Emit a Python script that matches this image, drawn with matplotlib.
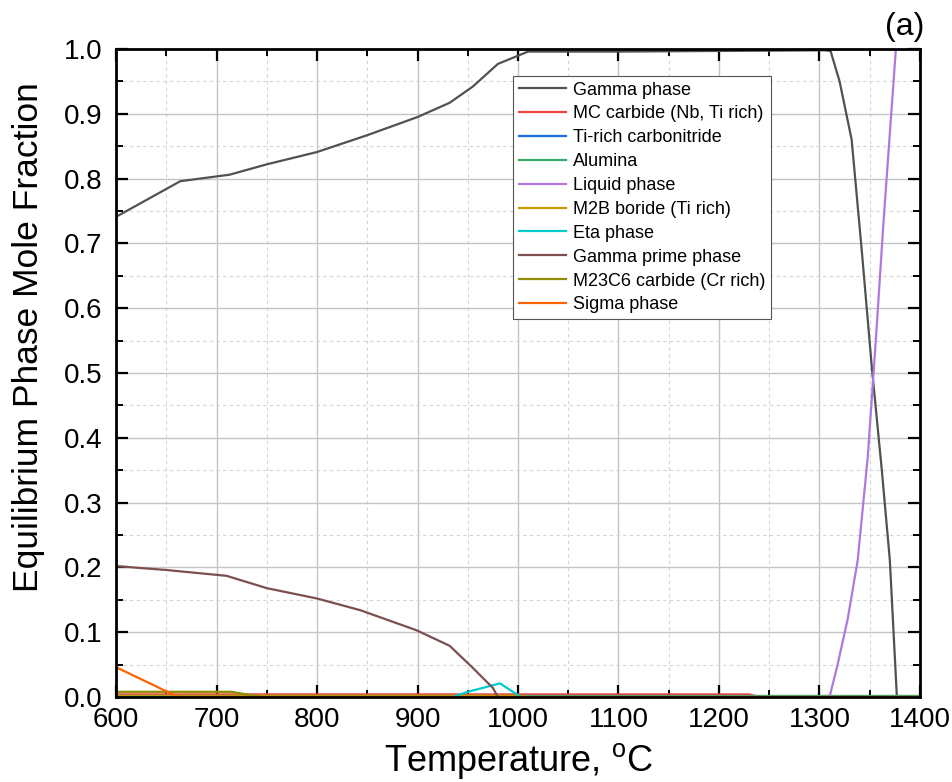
import numpy as np
import matplotlib
matplotlib.use("Agg")
import matplotlib.pyplot as plt
from matplotlib.ticker import MultipleLocator

plt.rcParams["font.family"] = ["Liberation Sans", "DejaVu Sans"]
plt.rcParams["mathtext.fontset"] = "custom"
plt.rcParams["mathtext.rm"] = "Liberation Sans"

# ---- data ----
gamma_T = [600, 664, 713, 750, 800, 850, 900, 932, 955, 980, 1010, 1100, 1200, 1305, 1311, 1320, 1332, 1342, 1352, 1362, 1370, 1377, 1400]
gamma_y = [0.741, 0.796, 0.806, 0.822, 0.841, 0.867, 0.895, 0.917, 0.942, 0.977, 0.996, 0.996, 0.997, 0.998, 0.997, 0.95, 0.86, 0.69, 0.51, 0.35, 0.211, 0.0, 0.0]

mc_T = [600, 1230, 1240, 1400]
mc_y = [0.004, 0.004, 0.0, 0.0]

tin_T = [600, 1400]
tin_y = [0.001, 0.001]

alumina_T = [600, 1400]
alumina_y = [0.0015, 0.0015]

liquid_T = [600, 1310, 1318, 1328, 1338, 1348, 1356, 1364, 1370, 1376, 1400]
liquid_y = [0.0, 0.0, 0.05, 0.12, 0.211, 0.37, 0.55, 0.74, 0.87, 1.0, 1.0]

m2b_T = [600, 1000, 1010, 1400]
m2b_y = [0.002, 0.002, 0.0, 0.0]

eta_T = [600, 935, 950, 982, 1003, 1400]
eta_y = [0.0, 0.0, 0.008, 0.021, 0.0, 0.0]

gprime_T = [600, 650, 710, 750, 800, 843, 899, 932, 955, 975, 980]
gprime_y = [0.202, 0.196, 0.187, 0.168, 0.152, 0.134, 0.103, 0.079, 0.045, 0.014, 0.0]

m23c6_T = [600, 715, 745, 1400]
m23c6_y = [0.008, 0.008, 0.0, 0.0]

sigma_T = [600, 662, 1400]
sigma_y = [0.046, 0.0, 0.0]

series = [
    ("Gamma phase", gamma_T, gamma_y, "#515151"),
    ("MC carbide (Nb, Ti rich)", mc_T, mc_y, "#F14040"),
    ("Ti-rich carbonitride", tin_T, tin_y, "#1A6FDF"),
    ("Alumina", alumina_T, alumina_y, "#37AD6B"),
    ("Liquid phase", liquid_T, liquid_y, "#B177DE"),
    ("M2B boride (Ti rich)", m2b_T, m2b_y, "#CC9900"),
    ("Eta phase", eta_T, eta_y, "#00CBCC"),
    ("Gamma prime phase", gprime_T, gprime_y, "#7D4E4E"),
    ("M23C6 carbide (Cr rich)", m23c6_T, m23c6_y, "#8E8E00"),
    ("Sigma phase", sigma_T, sigma_y, "#FB6501"),
]

fig = plt.figure(figsize=(9.53, 7.82), dpi=100)
ax = fig.add_axes([116 / 953, 1 - 697 / 782, 804 / 953, 648 / 782])

for name, T, y, c in series:
    ax.plot(T, y, color=c, lw=1.6, label=name)

ax.set_xlim(600, 1400)
ax.set_ylim(0, 1.0)
ax.xaxis.set_major_locator(MultipleLocator(100))
ax.xaxis.set_minor_locator(MultipleLocator(50))
ax.yaxis.set_major_locator(MultipleLocator(0.1))
ax.yaxis.set_minor_locator(MultipleLocator(0.05))
ax.yaxis.set_major_formatter(matplotlib.ticker.FormatStrFormatter("%.1f"))

ax.grid(which="major", color="#c4c4c4", lw=1.0, ls="-")
ax.grid(which="minor", color="#d4d4d4", lw=0.8, ls=(0, (3, 3)))
ax.set_axisbelow(True)

ax.tick_params(which="both", direction="in", top=True, right=True, labelsize=20)
ax.tick_params(which="major", length=8.5, width=1.6)
ax.tick_params(which="minor", length=4.7, width=1.4)
ax.tick_params(axis="x", which="major", pad=7)
ax.tick_params(axis="y", which="major", pad=10)
for sp in ax.spines.values():
    sp.set_linewidth(2.0)

ax.set_xlabel("Temperature, $^{\\mathrm{o}}$C", fontsize=26, labelpad=6)
ax.set_ylabel("Equilibrium Phase Mole Fraction", fontsize=25.5)
ax.yaxis.set_label_coords(-0.088, 0.556)

leg = ax.legend(loc="upper left", bbox_to_anchor=(0.494, 0.958), fontsize=13,
                frameon=True, fancybox=False, edgecolor="#555555", framealpha=1,
                handlelength=2.6, handletextpad=0.4, labelspacing=0.38,
                borderpad=0.3, borderaxespad=0)
leg.get_frame().set_linewidth(0.8)

fig.text(924 / 953, 1 - 27 / 782, "(a)", ha="right", va="center", fontsize=23)

fig.savefig("out.png", dpi=100)
